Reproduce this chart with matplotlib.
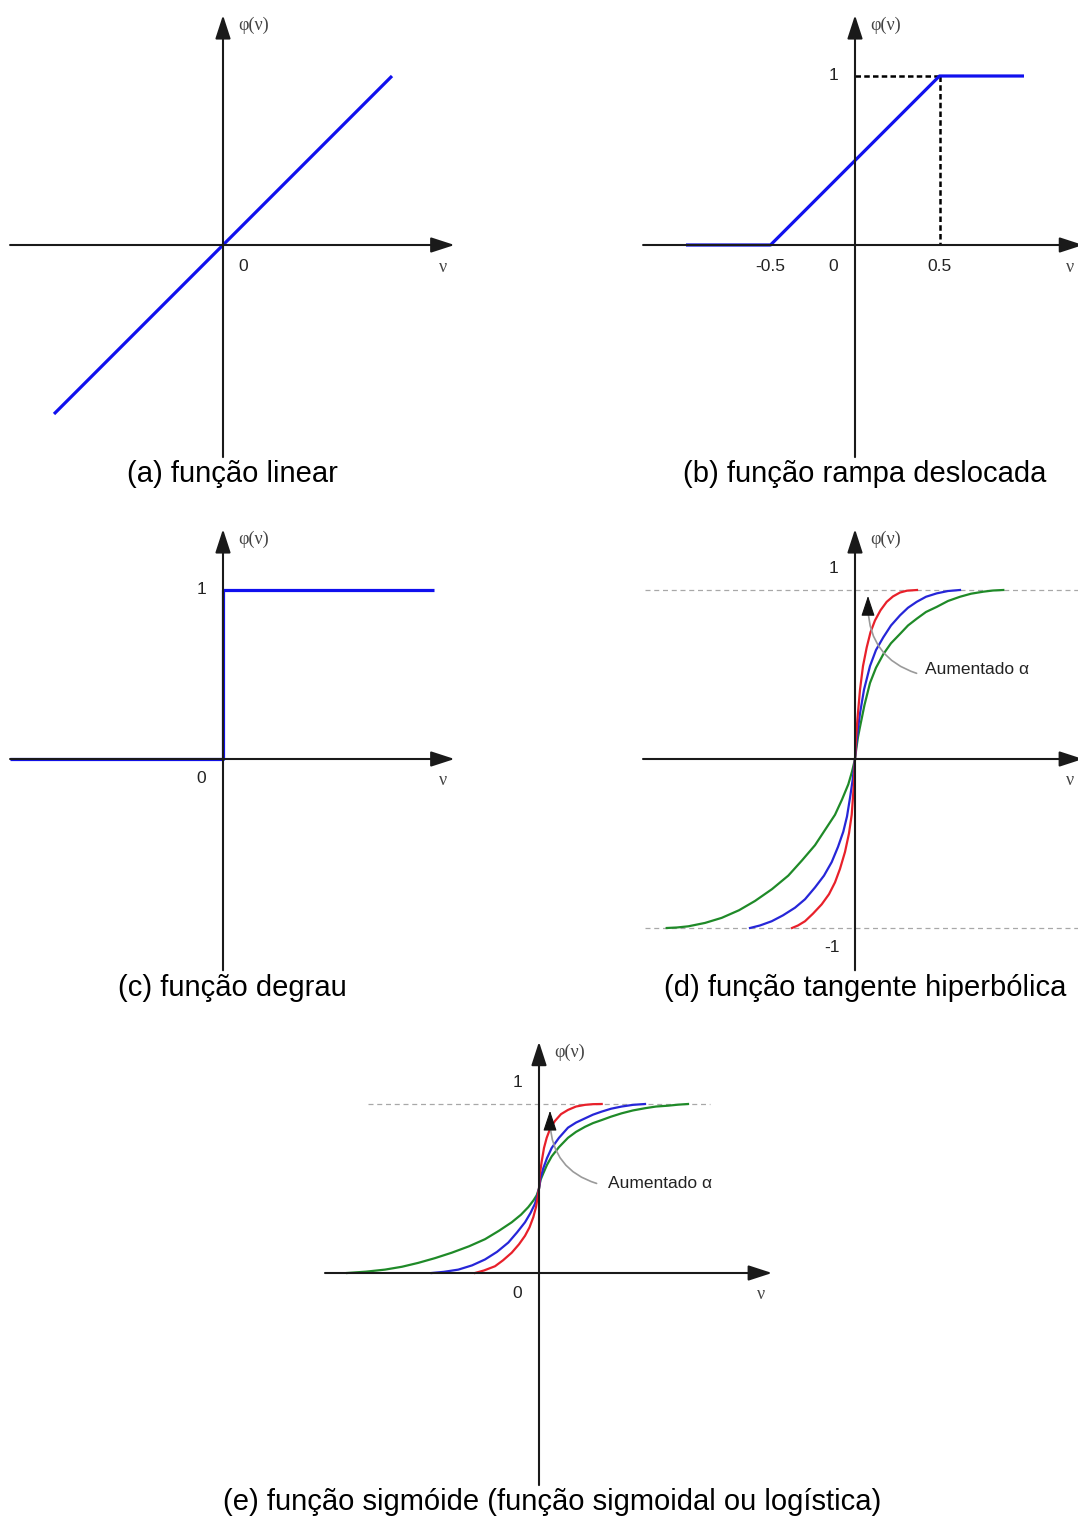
import matplotlib
matplotlib.use("Agg")
import matplotlib.pyplot as plt

plt.rcParams['font.family'] = ['Liberation Sans', 'DejaVu Sans']

W, H = 1078, 1519
UNIT = 169.0    # pixels per unit of phi (and of v in panels a-c)
VUNIT_S = 20.0  # pixels per unit of v in the tanh / sigmoid panels

# ---- (a) linear ----
lin_v = [-1.0, 1.0]
lin_phi = [-1.0, 1.0]

# ---- (b) shifted ramp ----
ramp_v = [-1.0, -0.5, 0.5, 1.0]
ramp_phi = [0.0, 0.0, 1.0, 1.0]
ramp_ticks = ["-0.5", "0", "0.5"]

# ---- (c) step ----
step_v = [-1.26, 0.0, 0.0, 1.25]
step_phi = [0.0, 0.0, 1.0, 1.0]

# ---- (d) hyperbolic tangent, three slopes ----
tanh_red_v = [-3.15, -2.85, -2.5, -2.1, -1.665, -1.3, -1.0, -0.75, -0.5, -0.3, -0.165, -0.06, 0.0,
              0.05, 0.125, 0.25, 0.4, 0.585, 0.775, 1.0, 1.275, 1.585, 1.9, 2.25, 2.6, 3.1]
tanh_red_phi = [-1.0, -0.985, -0.96, -0.915, -0.86, -0.80, -0.73, -0.65, -0.55, -0.44, -0.33, -0.16, 0.0,
                0.12, 0.24, 0.41, 0.55, 0.66, 0.75, 0.82, 0.88, 0.93, 0.962, 0.985, 0.996, 1.0]
tanh_blue_v = [-5.25, -4.75, -4.165, -3.6, -3.0, -2.5, -2.0, -1.55, -1.165, -0.85, -0.585, -0.4, -0.25, -0.125, 0.0,
               0.075, 0.15, 0.25, 0.45, 0.75, 1.05, 1.415, 1.8, 2.25, 2.65, 3.085, 3.55, 4.085, 4.65, 5.25]
tanh_blue_phi = [-1.0, -0.985, -0.96, -0.925, -0.88, -0.83, -0.76, -0.69, -0.61, -0.52, -0.43, -0.34, -0.23, -0.13, 0.0,
                 0.1, 0.18, 0.27, 0.41, 0.55, 0.645, 0.72, 0.79, 0.85, 0.895, 0.93, 0.96, 0.98, 0.994, 1.0]
tanh_green_v = [-9.415, -8.9, -8.335, -7.5, -6.665, -5.8, -5.0, -4.15, -3.335, -2.65, -2.0, -1.5, -1.0, -0.65, -0.335, -0.15, 0.0,
                0.075, 0.15, 0.25, 0.475, 0.75, 1.05, 1.415, 1.8, 2.25, 2.65, 3.085, 3.55, 4.085, 4.65, 5.25, 5.8, 6.415, 6.9, 7.415]
tanh_green_phi = [-1.0, -0.997, -0.99, -0.97, -0.94, -0.895, -0.84, -0.77, -0.69, -0.60, -0.51, -0.42, -0.33, -0.24, -0.15, -0.075, 0.0,
                  0.07, 0.13, 0.19, 0.32, 0.45, 0.54, 0.62, 0.685, 0.74, 0.79, 0.83, 0.87, 0.90, 0.935, 0.96, 0.978, 0.99, 0.997, 1.0]

# ---- (e) logistic sigmoid, three slopes ----
sig_red_v = [-3.2, -2.75, -2.2, -1.8, -1.365, -1.0, -0.7, -0.475, -0.285, -0.15, -0.065, 0.0,
             0.04, 0.135, 0.25, 0.385, 0.575, 0.8, 1.1, 1.45, 1.85, 2.3, 2.7, 3.135]
sig_red_phi = [0.0, 0.015, 0.04, 0.075, 0.12, 0.17, 0.22, 0.27, 0.33, 0.39, 0.45, 0.5,
               0.58, 0.66, 0.74, 0.80, 0.86, 0.90, 0.94, 0.965, 0.985, 0.995, 0.999, 1.0]
sig_blue_v = [-5.365, -4.75, -4.035, -3.35, -2.7, -2.1, -1.535, -1.1, -0.7, -0.425, -0.2, -0.075, 0.0,
              0.075, 0.215, 0.4, 0.635, 1.0, 1.45, 1.85, 2.3, 2.7, 3.135, 3.6, 4.135, 4.7, 5.3]
sig_blue_phi = [0.0, 0.007, 0.02, 0.045, 0.08, 0.125, 0.18, 0.24, 0.30, 0.355, 0.41, 0.46, 0.5,
                0.56, 0.62, 0.68, 0.74, 0.80, 0.86, 0.89, 0.915, 0.937, 0.955, 0.972, 0.985, 0.995, 1.0]
sig_green_v = [-9.6, -8.65, -7.7, -6.85, -6.035, -5.2, -4.365, -3.5, -2.7, -2.0, -1.365, -0.9, -0.535, -0.275, -0.115, 0.0,
               0.075, 0.215, 0.4, 0.635, 1.0, 1.45, 1.85, 2.3, 2.7, 3.135, 3.6, 4.135, 4.7, 5.3, 5.85, 6.45, 6.95, 7.45]
sig_green_phi = [0.0, 0.008, 0.02, 0.037, 0.06, 0.088, 0.12, 0.158, 0.20, 0.25, 0.30, 0.345, 0.39, 0.43, 0.46, 0.5,
                 0.55, 0.59, 0.64, 0.69, 0.745, 0.80, 0.835, 0.865, 0.887, 0.905, 0.925, 0.945, 0.962, 0.975, 0.985, 0.99, 0.996, 1.0]

captions = [
    "(a) função linear",
    "(b) função rampa deslocada",
    "(c) função degrau",
    "(d) função tangente hiperbólica",
    "(e) função sigmóide (função sigmoidal ou logística)",
]

BLUE = "#1010ee"
RED = "#e8202a"
MBLUE = "#2626d8"
GREEN = "#1f8a28"
AXIS = "#1a1a1a"
SERIF = ['Liberation Serif', 'DejaVu Serif']

fig = plt.figure(figsize=(W / 100, H / 100), dpi=100)
fig.patch.set_facecolor("white")


def panel(origin, box, xunit=UNIT):
    """Axes with (0, 0) at the origin pixel; xunit / UNIT pixels per data unit."""
    ox, oy = origin
    x0, y0, x1, y1 = box
    ax = fig.add_axes([x0 / W, 1 - y1 / H, (x1 - x0) / W, (y1 - y0) / H])
    ax.set_xlim((x0 - ox) / xunit, (x1 - ox) / xunit)
    ax.set_ylim((oy - y1) / UNIT, (oy - y0) / UNIT)
    ax.axis("off")
    return ax


def axes_arrows(ax, xr, yr):
    style = "-|>,head_length=0.8,head_width=0.26"
    for start, end in (((xr[0], 0), (xr[1], 0)), ((0, yr[0]), (0, yr[1]))):
        ax.annotate("", xy=end, xytext=start,
                    arrowprops=dict(arrowstyle=style, color=AXIS, lw=1.5,
                                    mutation_scale=18, shrinkA=0, shrinkB=0),
                    annotation_clip=False)


def phi_label(ax, x, y):
    ax.text(x, y, "φ(ν)", family=SERIF, fontsize=13, color="#444444",
            ha="left", va="center", clip_on=False)


def nu_label(ax, x, y):
    ax.text(x, y, "ν", family=SERIF, fontsize=13, color="#444444",
            ha="center", va="center", clip_on=False)


def tick(ax, x, y, s):
    ax.text(x, y, s, fontsize=12.5, color="#222222", ha="center",
            va="center", clip_on=False)


def growth_arrow(ax, start, end, tip, text_xy):
    ax.annotate("", xy=end, xytext=start,
                arrowprops=dict(arrowstyle="-", color="#9a9a9a", lw=1.2,
                                connectionstyle="arc3,rad=-0.35",
                                shrinkA=0, shrinkB=0))
    ax.annotate("", xy=tip, xytext=end,
                arrowprops=dict(arrowstyle="-|>,head_length=0.9,head_width=0.3",
                                color="#111111", lw=0.8, mutation_scale=14,
                                shrinkA=0, shrinkB=0))
    ax.text(text_xy[0], text_xy[1], "Aumentado α", fontsize=12.5,
            color="#222222", ha="left", va="center")


# (a)
ax = panel((223, 245), (0, 0, 539, 500))
axes_arrows(ax, (-1.26, 1.37), (-1.255, 1.36))
ax.plot(lin_v, lin_phi, color=BLUE, lw=2.3, solid_capstyle="butt")
tick(ax, 0.118, -0.13, "0")
nu_label(ax, 1.3, -0.136)
phi_label(ax, 0.088, 1.302)

# (b)
ax = panel((855, 245), (539, 0, 1078, 500))
axes_arrows(ax, (-1.254, 1.35), (-1.255, 1.36))
ax.plot([0, 0.5], [1, 1], color="black", lw=1.8, dashes=(2.2, 1.3))
ax.plot([0.5, 0.5], [1, 0], color="black", lw=1.8, dashes=(2.2, 1.3))
ax.plot(ramp_v, ramp_phi, color=BLUE, lw=2.3, solid_capstyle="butt")
for xv, s in zip([-0.5, -0.13, 0.5], ramp_ticks):
    tick(ax, xv, -0.13, s)
tick(ax, -0.13, 1.0, "1")
nu_label(ax, 1.275, -0.136)
phi_label(ax, 0.088, 1.302)

# (c)
ax = panel((223, 759), (0, 510, 539, 1010))
axes_arrows(ax, (-1.26, 1.37), (-1.25, 1.36))
ax.plot(step_v, step_phi, color=BLUE, lw=2.3, solid_capstyle="butt")
tick(ax, -0.13, 1.0, "1")
tick(ax, -0.13, -0.118, "0")
nu_label(ax, 1.3, -0.13)
phi_label(ax, 0.088, 1.302)

# (d)
ax = panel((855, 759), (539, 510, 1078, 1010), xunit=VUNIT_S)
for level in (1, -1):
    ax.plot([-10.5, 11.5], [level, level], color="#a8a8a8", lw=0.9,
            dashes=(4, 3))
axes_arrows(ax, (-10.6, 11.4), (-1.25, 1.36))
ax.plot(tanh_green_v, tanh_green_phi, color=GREEN, lw=1.6)
ax.plot(tanh_blue_v, tanh_blue_phi, color=MBLUE, lw=1.6)
ax.plot(tanh_red_v, tanh_red_phi, color=RED, lw=1.6)
tick(ax, -1.1, 1.13, "1")
tick(ax, -1.15, -1.118, "-1")
nu_label(ax, 10.75, -0.13)
phi_label(ax, 0.75, 1.302)
growth_arrow(ax, (3.08, 0.507), (0.65, 0.89), (0.65, 0.965), (3.5, 0.527))

# (e)
ax = panel((539, 1273), (250, 1020, 830, 1519), xunit=VUNIT_S)
ax.plot([-8.55, 8.55], [1, 1], color="#a8a8a8", lw=0.9, dashes=(4, 3))
axes_arrows(ax, (-10.7, 11.65), (-1.255, 1.368))
ax.plot(sig_green_v, sig_green_phi, color=GREEN, lw=1.6)
ax.plot(sig_blue_v, sig_blue_phi, color=MBLUE, lw=1.6)
ax.plot(sig_red_v, sig_red_phi, color=RED, lw=1.6)
tick(ax, -1.1, 1.13, "1")
tick(ax, -1.1, -0.124, "0")
nu_label(ax, 11.1, -0.13)
phi_label(ax, 0.75, 1.308)
growth_arrow(ax, (2.88, 0.53), (0.55, 0.885), (0.55, 0.96), (3.45, 0.527))

# captions
cap_pos = [(232, 474), (865, 474), (232, 988), (865, 988), (552, 1502)]
for (cx, cy), s in zip(cap_pos, captions):
    fig.text(cx / W, 1 - cy / H, s, fontsize=21, color="black",
             ha="center", va="center")

fig.savefig("out.png", dpi=100, facecolor="white")
